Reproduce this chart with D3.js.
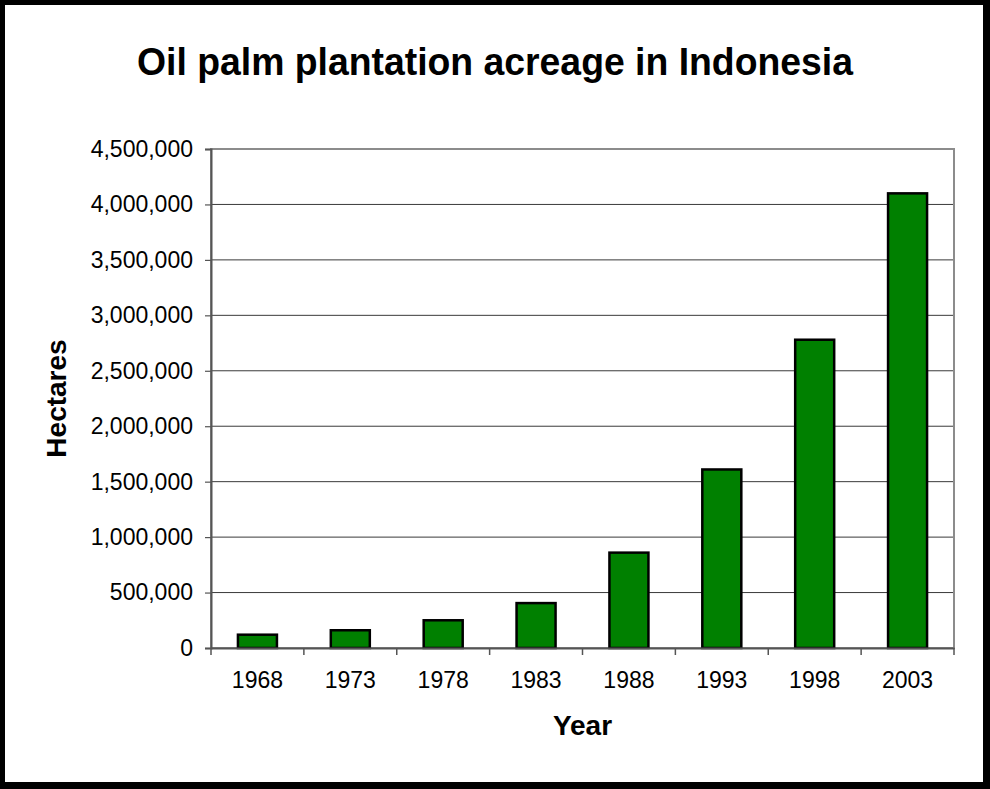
<!DOCTYPE html>
<html>
<head>
<meta charset="utf-8">
<script src="https://cdn.jsdelivr.net/npm/d3@7"></script>
<style>
  html, body { margin: 0; padding: 0; background: #fff; }
  svg { display: block; }
  text { font-family: Arial, "Liberation Sans", sans-serif; fill: #000; }
</style>
</head>
<body>
<svg id="chart" width="990" height="789"></svg>
<script>
const years = ["1968", "1973", "1978", "1983", "1988", "1993", "1998", "2003"];
const hectares = [120000, 160000, 250000, 405000, 860000, 1610000, 2780000, 4100000];
const yTicks = [0, 500000, 1000000, 1500000, 2000000, 2500000, 3000000, 3500000, 4000000, 4500000];
const titleText = "Oil palm plantation acreage in Indonesia";
const xTitle = "Year";
const yTitle = "Hectares";

const svg = d3.select("#chart");
const W = 990, H = 789;
const plot = { left: 211, right: 954, top: 149, bottom: 648 };

// frame
svg.append("rect").attr("x", 0).attr("y", 0).attr("width", W).attr("height", H).attr("fill", "#000");
svg.append("rect").attr("x", 5).attr("y", 5).attr("width", 978).attr("height", 777).attr("fill", "#fff");

const x = d3.scaleBand().domain(years).range([plot.left, plot.right]).paddingInner(0.58).paddingOuter(0.29);
const y = d3.scaleLinear().domain([0, 4500000]).range([plot.bottom, plot.top]);

// gridlines
svg.append("g").selectAll("line").data(yTicks.filter(d => d > 0 && d < 4500000)).join("line")
  .attr("x1", plot.left).attr("x2", plot.right)
  .attr("y1", d => y(d)).attr("y2", d => y(d))
  .attr("stroke", "#3a3a3a").attr("stroke-width", 1);

// plot border (gray)
svg.append("rect").attr("x", plot.left).attr("y", plot.top)
  .attr("width", plot.right - plot.left).attr("height", plot.bottom - plot.top)
  .attr("fill", "none").attr("stroke", "#8c8c8c").attr("stroke-width", 2);

// bars
svg.append("g").selectAll("rect").data(years).join("rect")
  .attr("x", d => x(d)).attr("width", x.bandwidth())
  .attr("y", (d, i) => y(hectares[i])).attr("height", (d, i) => y(0) - y(hectares[i]))
  .attr("fill", "#008000").attr("stroke", "#000").attr("stroke-width", 2.5);

// y axis
const fmt = d3.format(",");
const yAxis = svg.append("g").attr("transform", `translate(${plot.left},0)`)
  .call(d3.axisLeft(y).tickValues(yTicks).tickFormat(fmt).tickSize(6).tickPadding(12));
yAxis.select(".domain").attr("stroke", "#555").attr("stroke-width", 2);
yAxis.selectAll(".tick line").attr("stroke", "#555").attr("stroke-width", 1.2);
yAxis.selectAll("text").attr("font-size", 23).attr("font-family", "Arial, 'Liberation Sans', sans-serif").attr("fill", "#000");

// x axis
const xAxis = svg.append("g").attr("transform", `translate(0,${plot.bottom})`)
  .call(d3.axisBottom(x).tickSize(0).tickPadding(24));
xAxis.select(".domain").attr("stroke", "#555").attr("stroke-width", 2);
xAxis.selectAll("text").attr("font-size", 23).attr("font-family", "Arial, 'Liberation Sans', sans-serif").attr("fill", "#000");
// boundary ticks between categories
const step = x.step();
const bounds = d3.range(years.length + 1).map(i => plot.left + i * (plot.right - plot.left) / years.length);
svg.append("g").selectAll("line").data(bounds).join("line")
  .attr("x1", d => d).attr("x2", d => d)
  .attr("y1", plot.bottom).attr("y2", plot.bottom + 7)
  .attr("stroke", "#555").attr("stroke-width", 1.5);

// titles
svg.append("text").attr("x", 495).attr("y", 75).attr("text-anchor", "middle")
  .attr("font-size", 39).attr("font-weight", "bold")
  .attr("textLength", 716).attr("lengthAdjust", "spacingAndGlyphs").text(titleText);

svg.append("text").attr("x", (plot.left + plot.right) / 2).attr("y", 735).attr("text-anchor", "middle")
  .attr("font-size", 28).attr("font-weight", "bold").text(xTitle);

svg.append("text").attr("transform", `translate(66,${(plot.top + plot.bottom) / 2}) rotate(-90)`)
  .attr("text-anchor", "middle").attr("font-size", 28).attr("font-weight", "bold").text(yTitle);
</script>
</body>
</html>
